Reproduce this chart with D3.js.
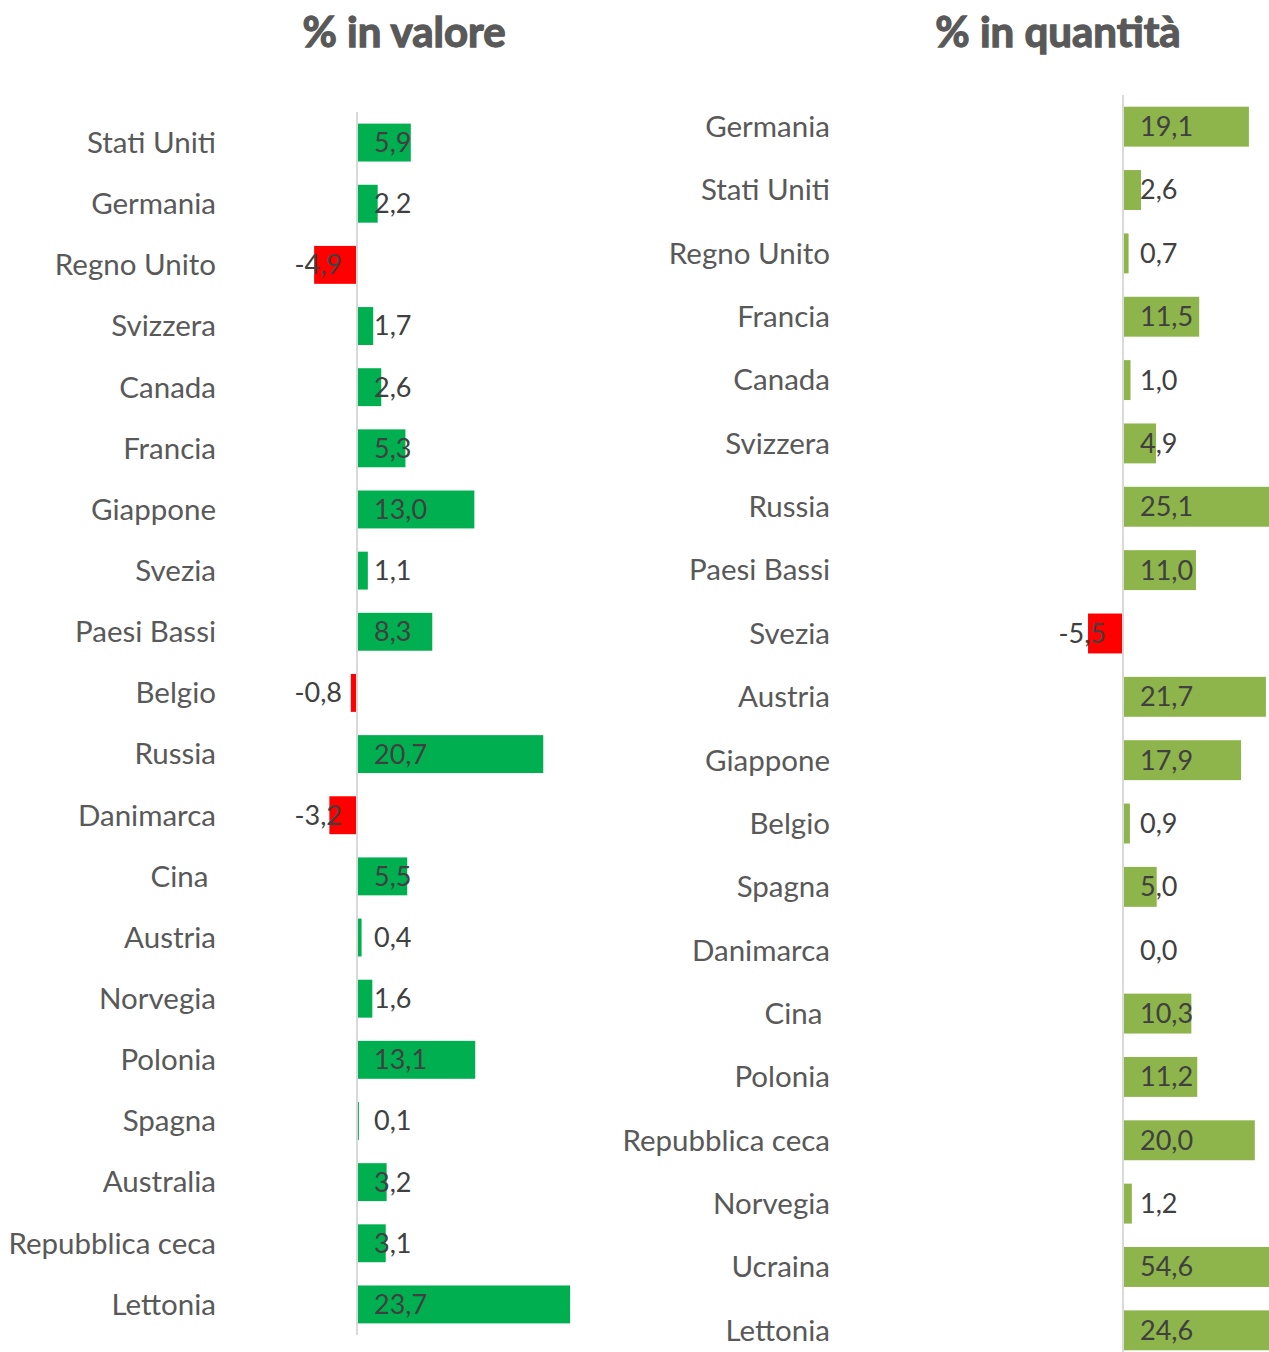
<!DOCTYPE html>
<html>
<head>
<meta charset="utf-8">
<script src="https://cdn.jsdelivr.net/npm/d3@7"></script>
<style>
  body { margin: 0; background: #fff; }
  svg text { font-family: Lato, "Open Sans", sans-serif; }
</style>
</head>
<body>
<div class="areaGrafica"></div>
<script>
// dati: variazioni % per paese
const paesiValore = ['Stati Uniti', 'Germania', 'Regno Unito', 'Svizzera', 'Canada', 'Francia', 'Giappone', 'Svezia',
  'Paesi Bassi', 'Belgio', 'Russia', 'Danimarca', 'Cina ', 'Austria', 'Norvegia', 'Polonia', 'Spagna', 'Australia',
  'Repubblica ceca', 'Lettonia'];
const valori = [5.9, 2.2, -4.9, 1.7, 2.6, 5.3, 13.0, 1.1, 8.3, -0.8, 20.7, -3.2, 5.5, 0.4, 1.6, 13.1, 0.1, 3.2, 3.1, 23.7];

const paesiQuantita = ['Germania', 'Stati Uniti', 'Regno Unito', 'Francia', 'Canada', 'Svizzera', 'Russia', 'Paesi Bassi',
  'Svezia', 'Austria', 'Giappone', 'Belgio', 'Spagna', 'Danimarca', 'Cina ', 'Polonia', 'Repubblica ceca', 'Norvegia',
  'Ucraina', 'Lettonia'];
const quantita = [19.1, 2.6, 0.7, 11.5, 1.0, 4.9, 25.1, 11.0, -5.5, 21.7, 17.9, 0.9, 5.0, 0.0, 10.3, 11.2, 20.0, 1.2, 54.6, 24.6];

const titoli = ['% in valore', '% in quantità'];

const w = 1269;
const h = 1352;

let svg = d3.select('.areaGrafica')
            .append('svg')
            .attr('width', w)
            .attr('height', h)

const formato = (v) => v.toFixed(1).replace('.', ',');

function pannello(cfg){
  let dati = cfg.paesi.map((p, i) => ({ paese: p, valore: cfg.valori[i] }))

  let yScale = d3.scaleBand()
                 .domain(d3.range(dati.length))
                 .range([cfg.top, cfg.bottom])
                 .paddingInner(cfg.pad)
                 .paddingOuter(cfg.pad / 2)

  let xScale = d3.scaleLinear()
                 .domain([-10, 30])
                 .range([cfg.zero - 10 * cfg.unit, cfg.zero + 30 * cfg.unit])

  let g = svg.append('g')

  // titolo, con un filo di contorno per renderlo più pesante
  g.append('text')
   .attr('x', cfg.titoloX)
   .attr('y', 47)
   .attr('text-anchor', 'middle')
   .attr('font-size', 42)
   .attr('font-weight', 'bold')
   .attr('fill', '#595959')
   .attr('stroke', '#595959')
   .attr('stroke-width', 1.3)
   .text(cfg.titolo)

  g.selectAll('rect.barra')
   .data(dati)
   .enter()
   .append('rect')
   .attr('class', 'barra')
   .attr('x', (d) => xScale(Math.min(0, d.valore)))
   .attr('width', (d) => Math.abs(xScale(d.valore) - xScale(0)))
   .attr('y', (d, i) => yScale(i))
   .attr('height', yScale.bandwidth())
   .attr('fill', (d) => d.valore < 0 ? '#ff0000' : cfg.verde)

  // asse verticale sullo zero
  g.append('line')
   .attr('x1', xScale(0) - 1).attr('x2', xScale(0) - 1)
   .attr('y1', cfg.top).attr('y2', cfg.lineaFine)
   .attr('stroke', '#d9d9d9')
   .attr('stroke-width', 2)

  g.selectAll('text.paese')
   .data(dati)
   .enter()
   .append('text')
   .attr('class', 'paese')
   .attr('x', cfg.labelX)
   .attr('y', (d, i) => yScale(i) + yScale.bandwidth() / 2)
   .attr('dy', '0.35em')
   .attr('text-anchor', 'end')
   .attr('font-size', 29.5)
   .attr('fill', '#595959')
   .style('white-space', 'pre')
   .text((d) => d.paese)

  g.selectAll('text.valore')
   .data(dati)
   .enter()
   .append('text')
   .attr('class', 'valore')
   .attr('x', (d) => d.valore < 0 ? xScale(0) - cfg.offNeg : xScale(0) + 16)
   .attr('y', (d, i) => yScale(i) + yScale.bandwidth() / 2)
   .attr('dy', '0.35em')
   .attr('text-anchor', (d) => d.valore < 0 ? 'end' : 'start')
   .attr('font-size', 27)
   .attr('fill', '#404040')
   .text((d) => formato(d.valore))
}

pannello({ paesi: paesiValore, valori: valori, titolo: titoli[0], titoloX: 404,
  top: 112, bottom: 1335, lineaFine: 1335, pad: 0.38, zero: 358, unit: 8.95,
  labelX: 216, offNeg: 16, verde: '#00b050' })

pannello({ paesi: paesiQuantita, valori: quantita, titolo: titoli[1], titoloX: 1058,
  top: 95, bottom: 1362, lineaFine: 1352, pad: 0.37, zero: 1124, unit: 6.54,
  labelX: 830, offNeg: 18, verde: '#8db54b' })
</script>
</body>
</html>
